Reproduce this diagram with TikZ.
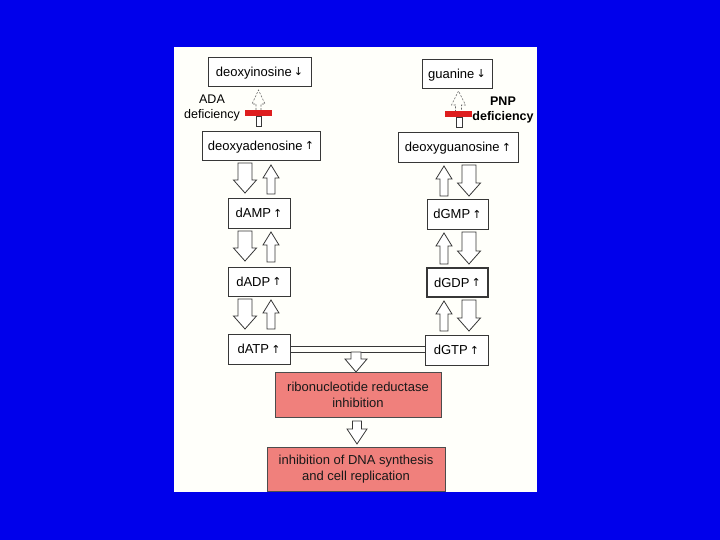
\documentclass[tikz,border=0pt]{standalone}
\usepackage{fontspec}
\setmainfont{Liberation Sans}
\newfontfamily\arrfont{DejaVu Sans}
\usetikzlibrary{calc}
\definecolor{slideblue}{RGB}{0,0,235}
\definecolor{paper}{RGB}{255,255,250}
\definecolor{edge}{RGB}{55,55,55}
\definecolor{salmon}{RGB}{240,128,124}
\definecolor{barred}{RGB}{222,30,30}
\newcommand\myup{\,\smash{\raisebox{0.3pt}{\arrfont\fontsize{11}{11}\selectfont ↑}}}
\newcommand\mydn{\,\smash{\raisebox{0.3pt}{\arrfont\fontsize{11}{11}\selectfont ↓}}}
\newcommand\fatdown[6]{%
  \draw[fatarrow] ({#1-#4},#2) -- ({#1+#4},#2) -- ({#1+#4},{#3-#6}) -- ({#1+#5},{#3-#6}) -- (#1,#3) -- ({#1-#5},{#3-#6}) -- ({#1-#4},{#3-#6}) -- cycle;}
\newcommand\fatup[6]{%
  \draw[fatarrow] ({#1-#4},#3) -- ({#1+#4},#3) -- ({#1+#4},{#2+#6}) -- ({#1+#5},{#2+#6}) -- (#1,#2) -- ({#1-#5},{#2+#6}) -- ({#1-#4},{#2+#6}) -- cycle;}
\begin{document}
\begin{tikzpicture}[x=1pt,y=-1pt,
  box/.style={draw=edge, line width=0.9pt, fill=white, inner sep=0pt,
    font=\fontsize{13}{15}\selectfont, text=black, text height=9.8pt, text depth=0.5pt},
  redbox/.style={draw=black!70, line width=0.9pt, fill=salmon, inner sep=0pt, align=center,
    font=\fontsize{13}{16}\selectfont, text=black!90},
  fatarrow/.style={draw=edge, line width=0.8pt, fill=white, line join=miter},
  dasharrow/.style={draw=black!60, line width=0.6pt, dash pattern=on 2pt off 1.5pt},
  lbl/.style={align=center, inner sep=0pt, font=\fontsize{12.5}{15}\selectfont}]
\useasboundingbox (0,0) rectangle (720,540);
\fill[slideblue] (0,0) rectangle (720,540);
\fill[paper] (174,47) rectangle (537,492);

% boxes
\node[box, minimum width=103pt, minimum height=29pt] (dIno) at (259.5,71.5) {deoxyinosine\mydn};
\node[box, minimum width=70pt, minimum height=29pt] (gua) at (457,73.5) {guanine\mydn};
\node[box, minimum width=118pt, minimum height=29pt] (dAdo) at (261,145.5) {deoxyadenosine\myup};
\node[box, minimum width=120pt, minimum height=30pt] (dGuo) at (458,147) {deoxyguanosine\myup};
\node[box, minimum width=62pt, minimum height=30pt] (dAMP) at (259,213) {dAMP\myup};
\node[box, minimum width=62pt, minimum height=29pt] (dADP) at (259,281.5) {dADP\myup};
\node[box, minimum width=62pt, minimum height=30pt] (dATP) at (259,349) {dATP\myup};
\node[box, minimum width=61pt, minimum height=30pt] (dGMP) at (457.5,214) {dGMP\myup};
\node[box, minimum width=61pt, minimum height=29pt, line width=1.3pt] (dGDP) at (457.5,282.5) {dGDP\myup};
\node[box, minimum width=63pt, minimum height=30pt] (dGTP) at (456.5,350) {dGTP\myup};
\node[redbox, minimum width=166pt, minimum height=45pt] (rr) at (358,394.5) {ribonucleotide reductase\\inhibition};
\node[redbox, minimum width=178pt, minimum height=44pt] (dna) at (356,469) {inhibition of DNA synthesis\\and cell replication};

% labels
\node[lbl] (ada) at (212,108) {ADA\\deficiency};
\node[lbl, font=\fontsize{12.5}{15}\selectfont\bfseries] (pnp) at (503,110) {PNP\\deficiency};

% blocked (dashed) arrows
\draw[dasharrow] (256,110) -- (256,104) -- (252,104) -- (258.5,90) -- (265,104) -- (261,104) -- (261,110);
\draw[edge, line width=0.7pt, fill=white] (256,116) rectangle (261.5,126);
\fill[barred] (245,110) rectangle (272,116);
\draw[dasharrow] (455.5,112) -- (455.5,105) -- (451.5,105) -- (458.5,91) -- (465.5,105) -- (461.5,105) -- (461.5,112);
\draw[edge, line width=0.7pt, fill=white] (456,117) rectangle (462,127);
\fill[barred] (445,111.5) rectangle (472,117.5);

% left column fat arrows
\fatdown{245}{163}{193}{7}{11.5}{13}
\fatdown{245}{231}{261}{7}{11.5}{13}
\fatdown{245}{299}{329}{7}{11.5}{13}
\fatup{271}{165}{194}{4}{8}{13}
\fatup{271}{232}{262}{4}{8}{13}
\fatup{271}{300}{329}{4}{8}{13}

% right column fat arrows
\fatup{444}{166}{196}{4}{8}{13}
\fatup{444}{233}{264}{4}{8}{13}
\fatup{444}{301}{331}{4}{8}{13}
\fatdown{469}{165}{196}{7}{11.5}{13}
\fatdown{469}{232}{264}{7}{11.5}{13}
\fatdown{469}{300}{331}{7}{11.5}{13}

% connectors to reductase
\coordinate (l1) at (357,346);
\coordinate (l2) at (357,352);
\draw[edge, line width=0.7pt] (dATP.east|-l1) -- (dGTP.west|-l1);
\draw[edge, line width=0.7pt] (dATP.east|-l2) -- (dGTP.west|-l2);
\fatdown{356}{352}{372}{5}{11}{13}
\fatdown{357}{421}{444}{4.5}{10}{15}
\end{tikzpicture}
\end{document}
